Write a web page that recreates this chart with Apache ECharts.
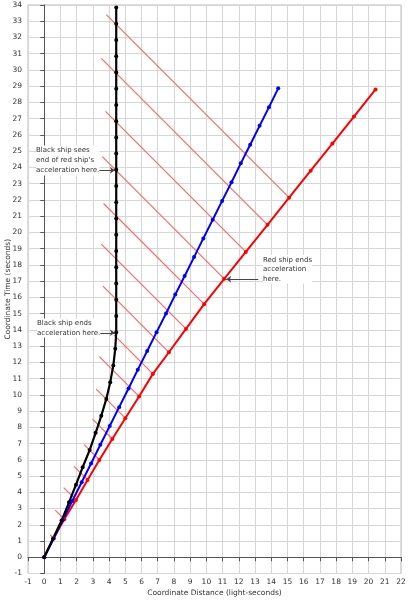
<!DOCTYPE html>
<html><head><meta charset="utf-8">
<script src="https://cdn.jsdelivr.net/npm/echarts@6/dist/echarts.min.js"></script>
<style>html,body{margin:0;padding:0;background:#fff}#c{width:408px;height:600px}</style>
</head><body><div id="c"></div>
<script>
const xTicks = [-1, 22];
const yTicks = [-1, 34];
const redX = [0, 0.58, 1.24, 1.96, 2.67, 3.4, 4.2, 5.0, 5.85, 6.7, 7.69, 8.74, 9.86, 11.1, 12.43, 13.77, 15.1, 16.43, 17.77, 19.1, 20.43];
const redT = [0, 1.17, 2.34, 3.53, 4.76, 5.99, 7.28, 8.56, 9.9, 11.29, 12.62, 14.06, 15.58, 17.14, 18.8, 20.47, 22.14, 23.8, 25.47, 27.13, 28.8];
const blackX = [0, 0.54, 1.07, 1.53, 1.96, 2.37, 2.8, 3.17, 3.52, 3.83, 4.07, 4.26, 4.38, 4.44, 4.44, 4.44, 4.44, 4.44, 4.44, 4.44, 4.44, 4.44, 4.44, 4.44, 4.44, 4.44, 4.44, 4.44, 4.44, 4.44, 4.44, 4.44, 4.44, 4.44];
const blackT = [0, 1.14, 2.26, 3.38, 4.47, 5.54, 6.6, 7.66, 8.71, 9.75, 10.78, 11.8, 12.83, 13.85, 14.85, 15.85, 16.85, 17.85, 18.85, 19.85, 20.85, 21.85, 22.85, 23.85, 24.85, 25.85, 26.85, 27.85, 28.85, 29.85, 30.85, 31.85, 32.85, 33.85];
const blueX = [0, 0.58, 1.15, 1.73, 2.31, 2.89, 3.46, 4.04, 4.62, 5.2, 5.77, 6.35, 6.93, 7.51, 8.08, 8.66, 9.24, 9.81, 10.39, 10.97, 11.55, 12.12, 12.7, 13.28, 13.86, 14.43];
const blueT = [0, 1.15, 2.31, 3.46, 4.62, 5.77, 6.93, 8.08, 9.24, 10.39, 11.55, 12.7, 13.86, 15.01, 16.17, 17.32, 18.48, 19.63, 20.78, 21.94, 23.09, 24.25, 25.4, 26.56, 27.71, 28.87];
// light signals: emitted from red points 1..16, ending past the black ship
const lightFrom = [1, 2, 3, 4, 5, 6, 7, 8, 9, 10, 11, 12, 13, 14, 15, 16];
const lightEndX = [0.37, 0.68, 1.2, 1.83, 2.46, 2.98, 3.21, 3.4, 4.3, 3.62, 3.52, 3.66, 3.58, 3.78, 3.52, 3.83];
const lightEndT = [1.38, 2.9, 4.29, 5.6, 6.93, 8.5, 10.35, 12.35, 13.69, 16.69, 19.28, 21.78, 24.66, 27.45, 30.72, 33.41];
const arrows = [
  [[3.15, 23.82], [4.36, 23.82]],
  [[3.15, 13.82], [4.36, 13.82]],
  [[13.2, 17.12], [11.22, 17.12]]
];
const notes = [
  'Black ship sees\nend of red ship\'s\nacceleration here.',
  'Black ship ends\nacceleration here.',
  'Red ship ends\nacceleration\nhere.'
];
const xAxisName = 'Coordinate Distance (light-seconds)';
const yAxisName = 'Coordinate Time (seconds)';

const zip = (a, b) => a.map((v, i) => [v, b[i]]);
const lightSeries = lightFrom.map((k, i) => ({
  type: 'line', z: 1, symbol: 'none', silent: true,
  data: [[redX[k], redT[k]], [lightEndX[i], lightEndT[i]]],
  lineStyle: { color: '#ff6262', width: 1.1 }
}));

const chart = echarts.init(document.getElementById('c'), null, { renderer: 'canvas' });
const font = '"DejaVu Sans", sans-serif';
const axisCommon = {
  type: 'value', interval: 1,
  axisLine: { show: true, lineStyle: { color: '#555', width: 1 } },
  axisTick: { show: true, length: 4, lineStyle: { color: '#555' } },
  axisLabel: { color: '#333', fontSize: 7.5, fontFamily: font },
  splitLine: { show: true, lineStyle: { color: '#d6d6d6', width: 1 } },
  nameLocation: 'middle',
  nameMoveOverlap: false,
  nameTextStyle: { color: '#333', fontSize: 7.5, fontFamily: font }
};
chart.setOption({
  animation: false,
  grid: { left: 28, right: 7, top: 5, bottom: 26.5, containLabel: false, outerBoundsMode: 'none', show: true, borderColor: '#bbb', borderWidth: 1 },
  xAxis: Object.assign({}, axisCommon, { min: xTicks[0], max: xTicks[1], name: xAxisName, nameGap: 16, axisLabel: Object.assign({}, axisCommon.axisLabel, { margin: 5 }) }),
  yAxis: Object.assign({}, axisCommon, { min: yTicks[0], max: yTicks[1], name: yAxisName, nameGap: 16, axisLabel: Object.assign({}, axisCommon.axisLabel, { margin: 6 }) }),
  series: lightSeries.concat([
    { type: 'line', data: zip(redX, redT), z: 3, symbol: 'circle', symbolSize: 4, showAllSymbol: true,
      lineStyle: { color: '#ff0000', width: 2 }, itemStyle: { color: '#ff0000' } },
    { type: 'line', data: zip(blueX, blueT), z: 3, symbol: 'circle', symbolSize: 4, showAllSymbol: true,
      lineStyle: { color: '#0000ff', width: 2 }, itemStyle: { color: '#0000ff' } },
    { type: 'line', data: zip(blackX, blackT), z: 3, symbol: 'circle', symbolSize: 4, showAllSymbol: true,
      lineStyle: { color: '#000000', width: 2.2 }, itemStyle: { color: '#000000' } },
    { type: 'lines', coordinateSystem: 'cartesian2d', z: 5,
      data: arrows.map(a => ({ coords: a })),
      symbol: ['none', 'arrow'], symbolSize: [0, 5],
      lineStyle: { color: '#444', width: 1, opacity: 1 } }
  ]),
  graphic: [
    { type: 'text', z: 10, x: 36, y: 145.5, style: { text: notes[0], font: '7px ' + font, fill: '#333', lineHeight: 10, backgroundColor: '#fff' } },
    { type: 'text', z: 10, x: 37, y: 318.5, style: { text: notes[1], font: '7px ' + font, fill: '#333', lineHeight: 9.5, backgroundColor: '#fff' } },
    { type: 'text', z: 10, x: 263, y: 255, style: { text: notes[2], font: '7px ' + font, fill: '#333', lineHeight: 9.5, backgroundColor: '#fff' } }
  ]
});
</script></body></html>
